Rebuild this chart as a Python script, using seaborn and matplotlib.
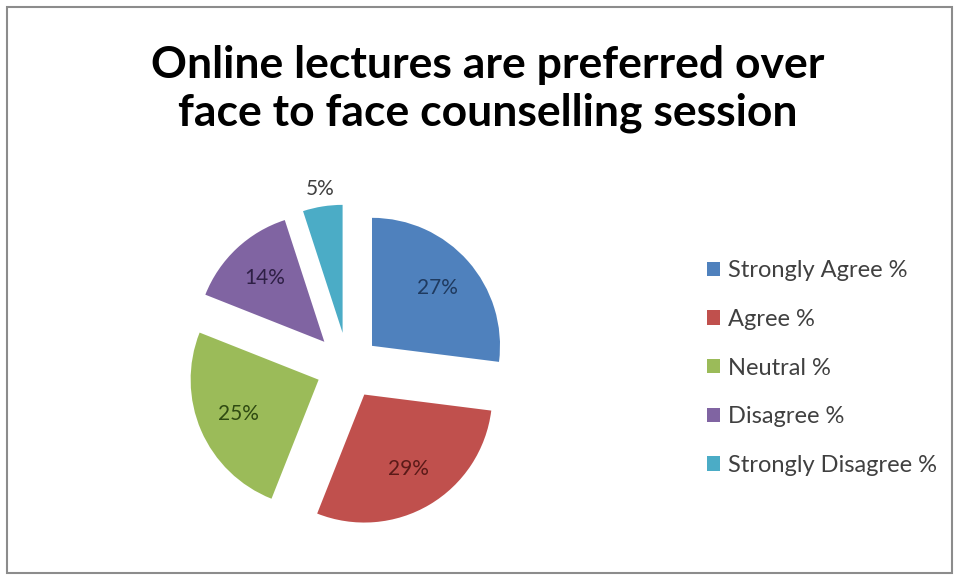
import matplotlib
matplotlib.use("Agg")
import matplotlib.pyplot as plt
import numpy as np
import seaborn as sns
from matplotlib.patches import Rectangle

sns.set_theme(style="white")
plt.rcParams["font.family"] = ["Lato", "DejaVu Sans"]

categories = ["Strongly Agree %", "Agree %", "Neutral %", "Disagree %", "Strongly Disagree %"]
shares = [27, 29, 25, 14, 5]
pct_labels = ["27%", "29%", "25%", "14%", "5%"]
slice_colors = ["#4F81BD", "#C0504D", "#9BBB59", "#8064A2", "#4BACC6"]
text_colors = ["#1F3A5F", "#5A1A18", "#2F4A12", "#2E1F45", "#404040"]
explode = [0.25, 0.25, 0.25, 0.27, 0.27]

palette = sns.color_palette(slice_colors)

fig = plt.figure(figsize=(9.58, 5.79), dpi=100)
W, H = 958, 579

# outer chart frame
fig.patches.append(Rectangle((7 / W, 6 / H), 945 / W, 566 / H, transform=fig.transFigure,
                             fill=False, edgecolor="#8c8c8c", linewidth=1.5))

r_px = 128
cx, cy = 348, 367
half = 1.6 * r_px
ax = fig.add_axes([(cx - half) / W, (H - cy - half) / H, 2 * half / W, 2 * half / H])
wedges, _ = ax.pie(shares, colors=palette, startangle=90, counterclock=False,
                   explode=explode, radius=1.0, wedgeprops=dict(linewidth=0))
ax.set_xlim(-1.6, 1.6)
ax.set_ylim(-1.6, 1.6)
ax.set_aspect("equal")
ax.axis("off")

for i, w in enumerate(wedges):
    mid = np.deg2rad((w.theta1 + w.theta2) / 2)
    ox, oy = w.center
    dist = 1.14 if shares[i] < 10 else 0.68
    ax.text(ox + dist * np.cos(mid), oy + dist * np.sin(mid), pct_labels[i],
            ha="center", va="center", fontsize=15, color=text_colors[i])

fig.text(488 / W, 1 - 89 / H, "Online lectures are preferred over\nface to face counselling session",
         ha="center", va="center", fontsize=32, fontweight="bold", color="black",
         linespacing=1.24)

fig.legend(wedges, categories, loc="upper left", bbox_to_anchor=(686 / W, 1 - 239 / H),
           frameon=False, fontsize=17, handlelength=0.55, handleheight=0.55,
           handletextpad=0.35, labelspacing=1.17, labelcolor="#404040")

fig.savefig("out.png", dpi=100, facecolor="white")
